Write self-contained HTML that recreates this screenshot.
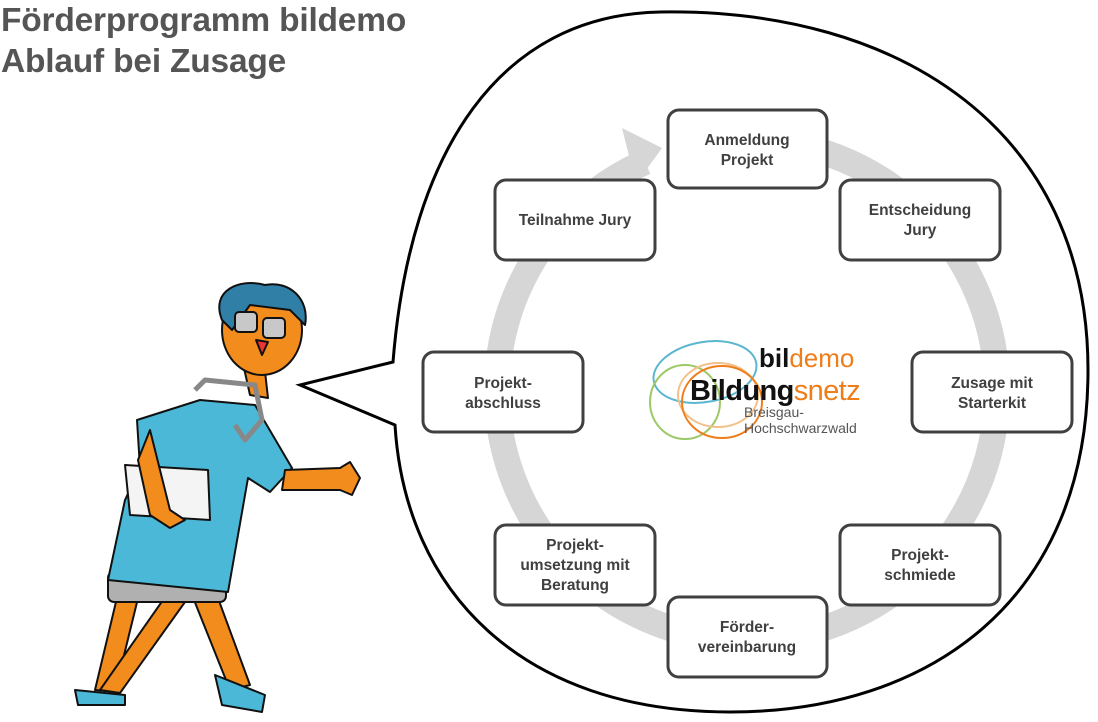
<!DOCTYPE html>
<html><head><meta charset="utf-8"><style>
html,body{margin:0;padding:0;background:#fff;}
body{width:1098px;height:722px;overflow:hidden;position:relative;font-family:"Liberation Sans",sans-serif;}
.t{position:absolute;left:1px;color:#555;font-weight:bold;font-size:33.5px;line-height:38px;letter-spacing:-0.2px}
</style></head><body>
<div class="t" style="top:2px">Förderprogramm bildemo</div>
<div class="t" style="top:43px">Ablauf bei Zusage</div>
<svg width="1098" height="722" style="position:absolute;left:0;top:0">
<path d="M660,12 C900,8 1088,130 1088,370 C1088,600 930,712 730,712 C520,712 405,590 395,425 L300,385 L393,362 C410,150 500,15 660,12 Z" fill="#fff" stroke="#000" stroke-width="3"/>
<path d="M790,144 A250,250 0 1,1 645,162" fill="none" stroke="#d6d6d6" stroke-width="26"/>
<polygon points="622,128 662,148 636,184" fill="#d6d6d6"/>
<g fill="#fff" stroke="#404040" stroke-width="3">
<rect x="668" y="110" width="159" height="78" rx="11"/>
<rect x="840" y="180" width="160" height="80" rx="11"/>
<rect x="912" y="352" width="160" height="80" rx="11"/>
<rect x="840" y="525" width="160" height="80" rx="11"/>
<rect x="668" y="597" width="159" height="80" rx="11"/>
<rect x="495" y="525" width="160" height="80" rx="11"/>
<rect x="423" y="352" width="160" height="80" rx="11"/>
<rect x="495" y="180" width="160" height="80" rx="11"/>
</g>
<g font-family="Liberation Sans,sans-serif" font-weight="bold" font-size="15.5" fill="#404040" text-anchor="middle">
<text x="747" y="145">Anmeldung</text><text x="747" y="165">Projekt</text>
<text x="920" y="215">Entscheidung</text><text x="920" y="235">Jury</text>
<text x="992" y="388">Zusage mit</text><text x="992" y="408">Starterkit</text>
<text x="920" y="560">Projekt-</text><text x="920" y="580">schmiede</text>
<text x="747" y="632">Förder-</text><text x="747" y="652">vereinbarung</text>
<text x="575" y="550">Projekt-</text><text x="575" y="570">umsetzung mit</text><text x="575" y="590">Beratung</text>
<text x="503" y="388">Projekt-</text><text x="503" y="408">abschluss</text>
<text x="575" y="225">Teilnahme Jury</text>
</g>
<g fill="none" stroke-width="2">
<ellipse cx="705" cy="372" rx="52" ry="30" stroke="#5bb6cf" transform="rotate(-10 705 372)"/>
<ellipse cx="685" cy="402" rx="35" ry="37" stroke="#9cc868"/>
<ellipse cx="718" cy="395" rx="40" ry="32" stroke="#f3c08a"/>
<ellipse cx="722" cy="402" rx="40" ry="36" stroke="#ef7d1a"/>
</g>
<g font-family="Liberation Sans,sans-serif">
<text x="759" y="367" font-size="26" font-weight="bold" fill="#111">bil<tspan fill="#ef7d1a" font-weight="normal">demo</tspan></text>
<text x="690" y="400" font-size="29" font-weight="bold" fill="#111" letter-spacing="-0.6">Bildung<tspan fill="#ef7d1a" font-weight="normal">snetz</tspan></text>
<text x="744" y="417" font-size="14" fill="#555">Breisgau-</text>
<text x="744" y="433" font-size="14" fill="#555">Hochschwarzwald</text>
</g>
<g stroke="#111" stroke-width="2" stroke-linejoin="round">
<path d="M120,585 L95,690 L115,692 L140,590 Z" fill="#f28c1c"/>
<path d="M190,590 L230,690 L250,685 L215,590 Z" fill="#f28c1c"/>
<path d="M170,590 L100,690 L120,693 L190,595 Z" fill="#f28c1c"/>
<rect x="108" y="572" width="118" height="30" rx="6" fill="#b0b0b0"/>
<path d="M250,395 L240,350 L262,345 L268,398 Z" fill="#f28c1c"/>
<path d="M137,420 L200,400 L255,405 L292,468 L270,492 L248,478 L228,592 L108,580 L125,500 L140,468 Z" fill="#4bb8d8"/>
<path d="M285,470 L340,468 L350,462 L360,478 L352,495 L340,490 L282,490 Z" fill="#f28c1c"/>
<path d="M125,465 L208,470 L210,520 L130,515 Z" fill="#f4f4f4"/>
<path d="M150,430 L170,510 L185,520 L170,528 L150,515 L138,460 Z" fill="#f28c1c"/>
<path d="M195,390 L205,380 L255,385 L262,420 L245,440 L235,425" fill="none" stroke="#888" stroke-width="5"/>
<ellipse cx="262" cy="330" rx="40" ry="45" fill="#f28c1c"/>
<path d="M222,320 C210,290 240,278 265,285 C290,280 310,300 305,325 L290,310 L250,305 L232,330 Z" fill="#2f7fa6"/>
<rect x="235" y="312" width="22" height="20" rx="4" fill="#c8c8c8"/>
<rect x="263" y="318" width="22" height="20" rx="4" fill="#c8c8c8"/>
<path d="M256,340 L268,342 L262,355 Z" fill="#e33"/>
<path d="M75,690 L125,695 L125,705 L78,705 Z" fill="#4bb8d8"/>
<path d="M215,675 L265,695 L262,712 L222,705 Z" fill="#4bb8d8"/>
</g>
</svg>
</body></html>
